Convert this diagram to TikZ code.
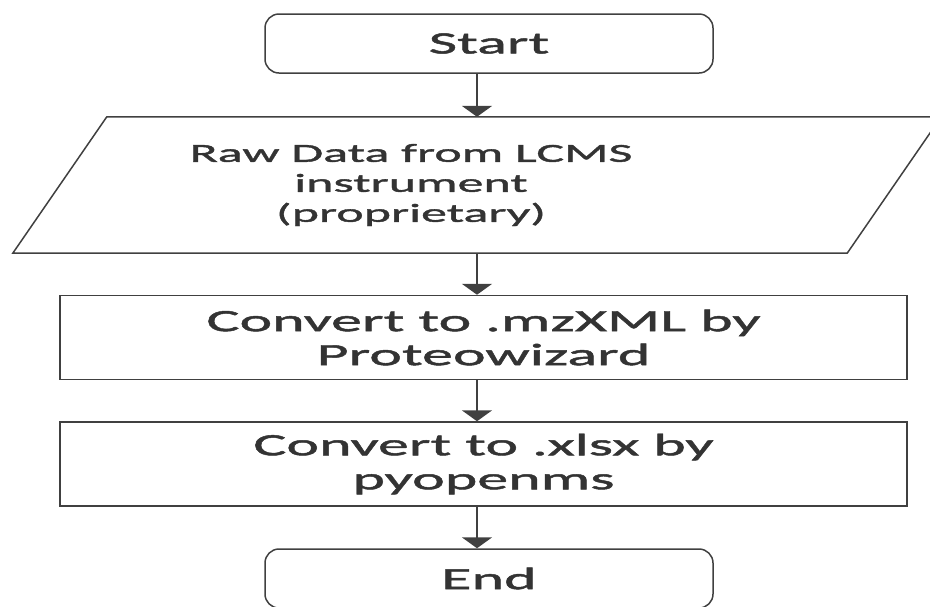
\documentclass[tikz,border=0pt]{standalone}
\usepackage{fontspec}
\setmainfont{Carlito}[FakeStretch=2.0,FakeBold=1.5]
\usetikzlibrary{arrows.meta,positioning}

\begin{document}
\begin{tikzpicture}[x=1pt,y=1pt]
                \tikzset{Terminal/.style={%
                    shape=rectangle,%
                    draw=black!75,%
                    line width=1.5pt,%
                    rounded corners=14pt,%
                    minimum width=448pt,%
                    minimum height=59pt,%
                    text=black!80,%
                    font=\fontsize{31}{34}\selectfont,%
                }}
                \tikzset{DataBody/.style={%
                    shape=rectangle,%
                    minimum width=834pt,%
                    minimum height=136pt,%
                    inner sep=0pt,%
                }}
                \tikzset{Outline/.style={%
                    draw=black!75,%
                    line width=1.5pt,%
                    line join=miter,%
                }}
                \tikzset{Process/.style={%
                    shape=rectangle,%
                    draw=black!75,%
                    line width=1.5pt,%
                    minimum width=847pt,%
                    minimum height=84pt,%
                    align=center,%
                    text=black!80,%
                    font=\fontsize{31}{34}\selectfont,%
                }}
                \tikzset{Flow/.style={%
                    draw=black!75,%
                    line width=2.5pt,%
                    -{Triangle[width=30pt,length=11pt]},%
                }}

                \useasboundingbox (0,0) rectangle (930,-606);

                \node[Terminal] (start) at (489,-43.5) {Start};
                \node[DataBody, label={[xshift=-66pt, align=center, text=black!80,
                    font=\fontsize{26}{30}\selectfont]center:Raw Data from LCMS\\instrument\\(proprietary)}]
                    (raw) at (477,-185) {};
                \draw[Outline] ([xshift=47pt]raw.north west) -- ([xshift=47pt]raw.north east)
                    -- ([xshift=-47pt]raw.south east) -- ([xshift=-47pt]raw.south west) -- cycle;
                \node[Process] (mzxml) at (483.5,-337.5) {Convert to .mzXML by\\Proteowizard};
                \node[Process] (xlsx) at (483.5,-464) {Convert to .xlsx by\\pyopenms};
                \node[Terminal] (stop) at (489,-578.5) {End};

                \path (start.south -| raw.center) edge[Flow] (raw.north);
                \path (raw.south) edge[Flow] (raw.center |- mzxml.north);
                \path (mzxml.south -| raw.center) edge[Flow] (raw.center |- xlsx.north);
                \path (xlsx.south -| raw.center) edge[Flow] (raw.center |- stop.north);
            \end{tikzpicture}
\end{document}
